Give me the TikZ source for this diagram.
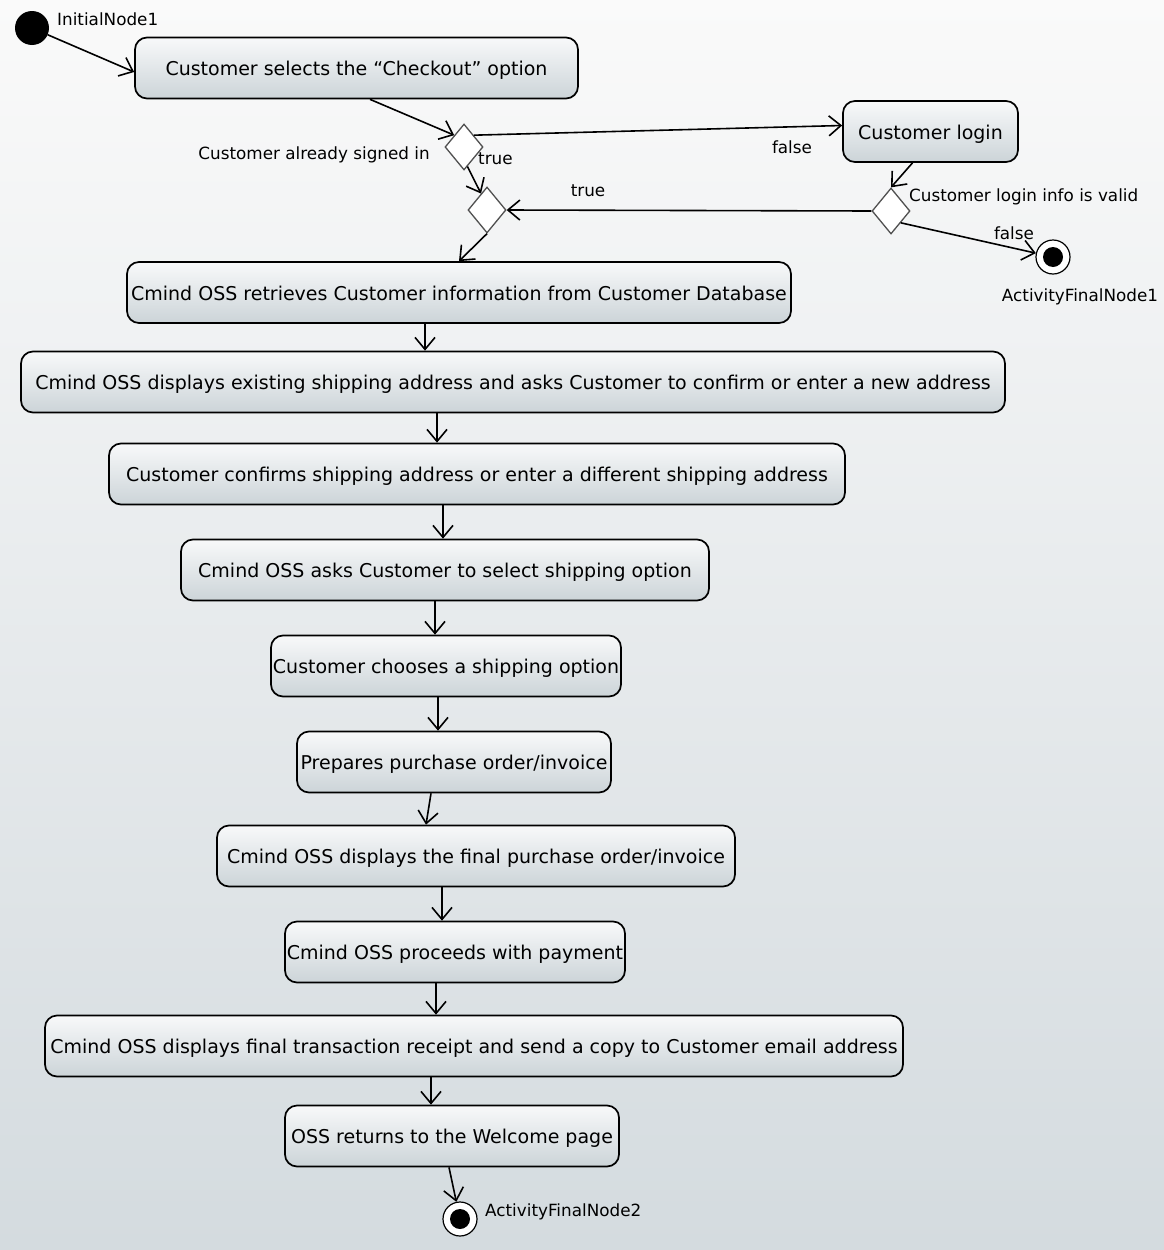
\documentclass[tikz,border=0pt]{standalone}
\usepackage{fontspec}
\setmainfont{DejaVu Sans}
\usetikzlibrary{arrows.meta,shapes.geometric}
\definecolor{bgtop}{RGB}{250,250,250}
\definecolor{bgbot}{RGB}{212,219,223}
\definecolor{boxtop}{RGB}{248,249,250}
\definecolor{boxbot}{RGB}{204,212,216}
\definecolor{diaedge}{RGB}{80,80,80}
\begin{document}
\begin{tikzpicture}[x=1pt,y=-1pt,
  action/.style={draw=black, line width=1.7pt, rounded corners=12pt,
    top color=boxtop, bottom color=boxbot, minimum height=61pt,
    inner sep=0pt, text height=19pt, text depth=4pt,
    font=\fontsize{19}{21}\selectfont},
  decision/.style={diamond, draw=diaedge, fill=white, line width=1.3pt,
    minimum width=38pt, minimum height=46pt, inner sep=0pt},
  startnode/.style={circle, fill=black, minimum size=34pt, inner sep=0pt},
  endnode/.style={circle, draw=black, fill=white, line width=1.2pt,
    minimum size=34pt, inner sep=0pt,
    path picture={\fill[black] (path picture bounding box.center) circle (10pt);}},
  lbl/.style={inner sep=0pt, font=\fontsize{16.8}{18}\selectfont},
  flow/.style={line width=1.6pt,
    -{Straight Barb[length=12pt,width=20pt,line width=1.6pt]}}]

% canvas and background
\useasboundingbox (0,0) rectangle (1164,1250);
\shade[top color=bgtop, bottom color=bgbot] (0,0) rectangle (1164,1250);

% control nodes
\node[startnode] (init) at (32,28) {};
\node[decision] (d1) at (464,147) {};
\node[decision] (d2) at (487,210) {};
\node[decision] (d3) at (891,211) {};
\node[endnode] (f1) at (1053,257) {};
\node[endnode] (f2) at (460,1219) {};

% actions
\node[action, minimum width=443pt] (b1) at (356.5,68) {Customer selects the “Checkout” option};
\node[action, minimum width=175pt] (login) at (930.5,131.5) {Customer login};
\node[action, minimum width=664pt] (b2) at (459,292.5) {Cmind OSS retrieves Customer information from Customer Database};
\node[action, minimum width=984pt] (b3) at (513,382) {Cmind OSS displays existing shipping address and asks Customer to confirm or enter a new address};
\node[action, minimum width=736pt] (b4) at (477,474) {Customer confirms shipping address or enter a different shipping address};
\node[action, minimum width=528pt] (b5) at (445,570) {Cmind OSS asks Customer to select shipping option};
\node[action, minimum width=350pt] (b6) at (446,666) {Customer chooses a shipping option};
\node[action, minimum width=314pt] (b7) at (454,762) {Prepares purchase order/invoice};
\node[action, minimum width=518pt] (b8) at (476,856) {Cmind OSS displays the final purchase order/invoice};
\node[action, minimum width=340pt] (b9) at (455,952) {Cmind OSS proceeds with payment};
\node[action, minimum width=858pt] (b10) at (474,1046) {Cmind OSS displays final transaction receipt and send a copy to Customer email address};
\node[action, minimum width=334pt] (b11) at (452,1136) {OSS returns to the Welcome page};

% labels
\node[lbl, anchor=west] (tinit) at (57,19) {InitialNode1};
\node[lbl, anchor=east] (tguard) at (430,155) {Customer already signed in};
\node[lbl, anchor=west] (ttrue1) at (478,159) {true};
\node[lbl] (tfalse1) at (792,147) {false};
\node[lbl] (ttrue2) at (588,191) {true};
\node[lbl, anchor=west] (tvalid) at (909,197) {Customer login info is valid};
\node[lbl] (tfalse2) at (1014,233) {false};
\node[lbl] (tf1) at (1080,297) {ActivityFinalNode1};
\node[lbl, anchor=west] (tf2) at (485,1212) {ActivityFinalNode2};

% control flow
\draw[flow] (init) -- ([yshift=-4pt]b1.west);
\draw[flow] ([xshift=13.5pt]b1.south) -- (d1.north west);
\draw[flow] (d1.north east) -- ([yshift=6pt]login.west);
\draw[flow] (d1.-80) -- (d2.110);
\draw[flow] ([xshift=-18pt]login.south) -- (d3.north);
\draw[flow] (d3.west) -- (d2.east);
\draw[flow] (d3.south east) -- (f1);
\draw[flow] (d2.south) -- (b2.north);
\draw[flow] (b2.south -| 425,0) -- (b3.north -| 425,0);
\draw[flow] (b3.south -| 437,0) -- (b4.north -| 437,0);
\draw[flow] (b4.south -| 443,0) -- (b5.north -| 443,0);
\draw[flow] (b5.south -| 435,0) -- (b6.north -| 435,0);
\draw[flow] (b6.south -| 438,0) -- (b7.north -| 438,0);
\draw[flow] (b7.south -| 431,0) -- (b8.north -| 426,0);
\draw[flow] (b8.south -| 442,0) -- (b9.north -| 442,0);
\draw[flow] (b9.south -| 436,0) -- (b10.north -| 436,0);
\draw[flow] (b10.south -| 431,0) -- (b11.north -| 431,0);
\draw[flow] (b11.south -| 449,0) -- (f2);
\end{tikzpicture}
\end{document}
